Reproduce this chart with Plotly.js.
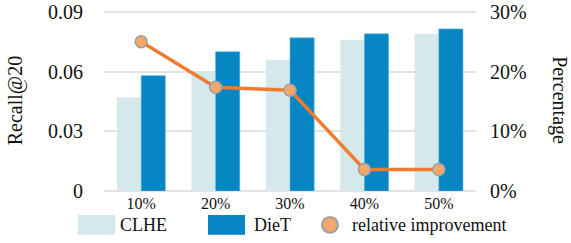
<!DOCTYPE html>
<html><head><meta charset="utf-8">
<script src="https://cdn.plot.ly/plotly-3.0.1.min.js"></script>
<style>html,body{margin:0;padding:0;background:#fff}#chart{width:571px;height:243px}</style>
</head><body><div id="chart"></div>
<script>
const categories = ['10%','20%','30%','40%','50%'];
const clhe = [0.047, 0.060, 0.066, 0.076, 0.079];
const diet = [0.058, 0.070, 0.077, 0.079, 0.0815];
const improvement = [25.0, 17.4, 16.9, 3.6, 3.6];
const leftTicks = [0, 0.03, 0.06, 0.09];
const leftTickText = ['0', '0.03', '0.06', '0.09'];
const rightTicks = [0, 10, 20, 30];
const rightTickText = ['0%', '10%', '20%', '30%'];

const serif = 'Liberation Serif, Times New Roman, serif';
const cLight = '#d5e9ed', cDark = '#0786c3', cLine = '#ee7d31', cMarker = '#f2a86c';

const traces = [
  {type:'bar', x:categories, y:clhe, name:'CLHE', marker:{color:cLight}, showlegend:false},
  {type:'bar', x:categories, y:diet, name:'DieT', marker:{color:cDark, line:{color:'#5fb3dc', width:0.6}}, showlegend:false},
  {type:'scatter', mode:'lines+markers', x:categories, y:improvement, yaxis:'y2', name:'relative improvement',
   line:{color:cLine, width:3.5}, marker:{size:12, color:cMarker, line:{color:'#a0a0a0', width:1.5}}, showlegend:false}
];

const layout = {
  width:571, height:243,
  margin:{l:104, r:95, t:10, b:52},
  paper_bgcolor:'#fff', plot_bgcolor:'#fff',
  barmode:'group', bargap:0.35, bargroupgap:0,
  font:{family:serif, color:'#111'},
  xaxis:{type:'category', showgrid:false, zeroline:false, showline:false, ticks:'', tickfont:{size:16, family:serif}, ticklabelstandoff:1},
  yaxis:{range:[0,0.091], tickvals:leftTicks, ticktext:leftTickText, tickfont:{size:20, family:serif},
    showgrid:true, gridcolor:'#e3e3e3', gridwidth:2, zeroline:true, zerolinecolor:'#e3e3e3', zerolinewidth:2,
    showline:false, ticks:'', ticklabelstandoff:20, ticklabeloverflow:'allow',
    title:{text:'Recall@20', font:{size:20, family:serif}, standoff:20}},
  yaxis2:{range:[0,30.333], overlaying:'y', side:'right', tickvals:rightTicks, ticktext:rightTickText,
    tickfont:{size:20, family:serif}, showgrid:false, zeroline:false, showline:false, ticks:'', ticklabelstandoff:13, ticklabeloverflow:'allow'},
  shapes:[
    {type:'rect', xref:'paper', yref:'paper', x0:-0.0699, x1:0.0296, y0:-0.132, y1:-0.242, fillcolor:cLight, line:{width:0}},
    {type:'rect', xref:'paper', yref:'paper', x0:0.2796, x1:0.3790, y0:-0.132, y1:-0.242, fillcolor:cDark, line:{width:0}},
    {type:'circle', xref:'paper', yref:'paper', x0:0.586, x1:0.629, y0:-0.143, y1:-0.231, fillcolor:cMarker, line:{color:'#a0a0a0', width:2}}
  ],
  annotations:[
    {xref:'paper', yref:'paper', x:0.0376, y:-0.187, xanchor:'left', yanchor:'middle', text:'CLHE', showarrow:false, font:{size:18, family:serif, color:'#111'}},
    {xref:'paper', yref:'paper', x:0.3978, y:-0.187, xanchor:'left', yanchor:'middle', text:'DieT', showarrow:false, font:{size:18, family:serif, color:'#111'}},
    {xref:'paper', yref:'paper', x:0.661, y:-0.187, xanchor:'left', yanchor:'middle', text:'relative improvement', showarrow:false, font:{size:18, family:serif, color:'#111'}},
    {xref:'paper', yref:'paper', x:1.224, y:0.5, xanchor:'center', yanchor:'middle', text:'Percentage', textangle:90, showarrow:false, font:{size:20, family:serif, color:'#111'}}
  ]
};

Plotly.newPlot('chart', traces, layout, {displayModeBar:false, staticPlot:true});
</script></body></html>
